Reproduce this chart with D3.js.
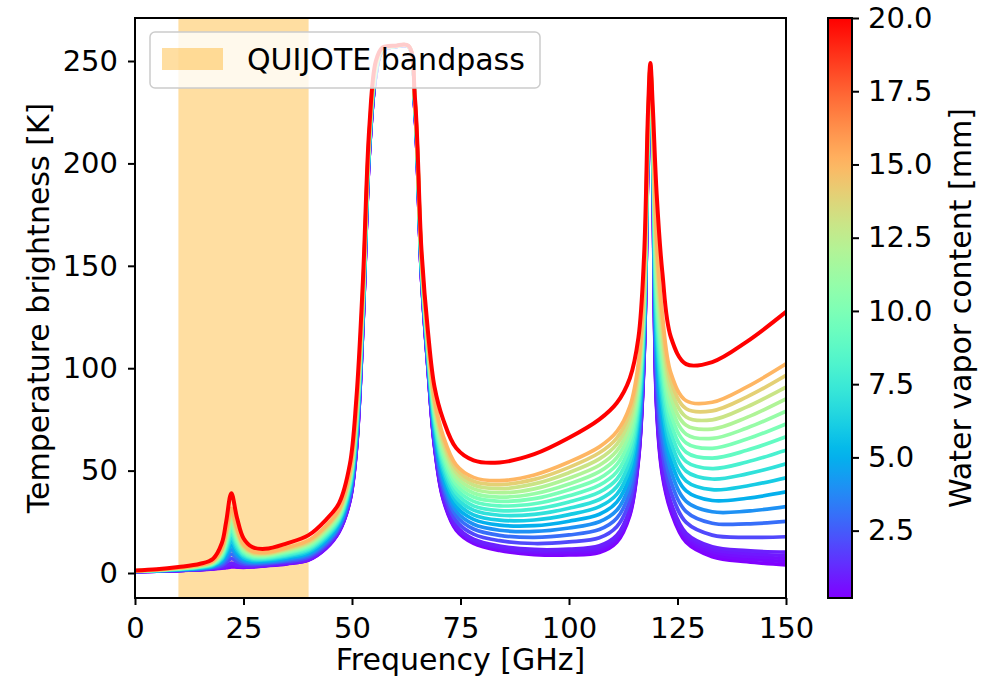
<!DOCTYPE html>
<html>
<head>
<meta charset="utf-8">
<script src="https://cdn.jsdelivr.net/npm/d3@7"></script>
<style>
  body { margin: 0; background: #fff; }
  svg { display: block; }
  text { font-family: "DejaVu Sans", sans-serif; fill: #000; }
</style>
</head>
<body>
<svg id="chart" width="981" height="679"></svg>
<script>
// Frequency grid shared by every spectrum (GHz)
const freqGHz = [0, 5, 10, 15, 18, 20, 21, 22.2, 23.5, 25, 27, 30, 35, 40, 44, 47, 49.5, 51, 52.5, 54,
  55.5, 57, 60, 63, 64.5, 66, 67.5, 69, 71, 74, 78, 84, 92, 100, 107, 111, 114, 116, 117.3, 118.2,
  118.75, 119.3, 120.2, 121.5, 123.5, 127, 133, 141, 150];

// Precipitable water vapour of each spectrum (mm)
const pwvMm = [0.2, 0.4, 0.6, 0.8, 1, 2, 3, 4, 5, 6, 7, 8, 9, 10, 11, 12, 13, 14, 15, 20];

// Brightness temperature (K) for each water vapour content
const tbPwv0p2 = [0.7,0.9,1.2,1.6,2.0,2.4,2.6,3.0,2.9,2.8,3.0,3.5,4.5,6.3,12.0,20.0,35.0,60.0,120.0,205.0,243.0,255.0,257.0,257.0,226.0,145.0,100.0,62.0,36.0,21.0,14.5,11.0,9.0,8.8,10.0,15.0,28.0,55.0,105.0,205.0,243.0,200.0,80.0,48.0,30.0,15.0,8.0,5.5,4.0];
const tbPwv0p4 = [0.7,0.9,1.2,1.6,2.1,2.6,2.9,3.5,3.2,3.0,3.1,3.6,4.6,6.5,12.2,20.2,35.2,60.3,120.3,205.2,243.1,255.0,257.0,257.0,226.1,145.2,100.2,62.4,36.5,21.5,15.0,11.5,9.6,9.5,10.8,15.9,28.8,55.8,105.6,205.3,243.1,200.4,81.3,49.2,31.1,16.1,9.2,6.9,5.6];
const tbPwv0p6 = [0.7,0.9,1.2,1.7,2.1,2.7,3.2,3.9,3.5,3.2,3.2,3.7,4.8,6.6,12.4,20.4,35.5,60.6,120.6,205.3,243.2,255.0,257.0,257.0,226.2,145.3,100.5,62.7,37.0,22.0,15.5,12.1,10.2,10.2,11.6,16.7,29.7,56.5,106.3,205.5,243.2,200.7,82.6,50.5,32.1,17.2,10.4,8.2,7.1];
const tbPwv0p8 = [0.7,0.9,1.3,1.7,2.2,2.9,3.4,4.4,3.8,3.3,3.4,3.8,4.9,6.8,12.5,20.5,35.7,60.9,120.8,205.5,243.3,255.1,257.0,257.0,226.2,145.5,100.7,63.1,37.5,22.5,16.0,12.6,10.8,11.0,12.4,17.6,30.5,57.3,106.9,205.8,243.2,201.1,84.0,51.7,33.2,18.3,11.6,9.5,8.6];
const tbPwv1 = [0.7,1.0,1.3,1.8,2.3,3.0,3.7,4.8,4.1,3.5,3.5,3.9,5.0,6.9,12.7,20.7,35.9,61.3,121.1,205.7,243.4,255.1,257.0,257.0,226.3,145.7,100.9,63.5,38.0,23.0,16.5,13.2,11.5,11.7,13.3,18.4,31.4,58.0,107.5,206.0,243.3,201.4,85.3,53.0,34.3,19.4,12.8,10.9,10.2];
const tbPwv2 = [0.8,1.0,1.4,1.9,2.6,3.7,5.1,7.0,5.6,4.4,4.1,4.4,5.6,7.7,13.6,21.6,37.0,62.8,122.4,206.4,243.8,255.2,257.1,257.1,226.7,146.4,102.0,65.2,40.3,25.4,19.0,15.8,14.4,15.2,17.2,22.6,35.4,61.7,110.6,207.2,243.7,203.1,91.7,59.0,39.4,24.7,18.5,17.4,17.7];
const tbPwv3 = [0.8,1.1,1.5,2.1,2.9,4.5,6.5,9.2,7.0,5.2,4.7,4.9,6.2,8.4,14.4,22.4,38.1,64.3,123.8,207.2,244.2,255.3,257.1,257.1,227.0,147.2,103.1,67.0,42.7,27.9,21.5,18.4,17.4,18.6,21.2,26.7,39.5,65.3,113.6,208.4,244.0,204.8,98.1,65.0,44.6,30.0,24.3,24.0,25.2];
const tbPwv4 = [0.8,1.1,1.6,2.3,3.2,5.2,7.8,11.3,8.4,6.1,5.2,5.4,6.8,9.1,15.2,23.2,39.1,65.8,125.1,208.0,244.6,255.3,257.1,257.1,227.4,148.0,104.1,68.7,45.0,30.2,23.8,20.9,20.3,22.0,25.0,30.6,43.4,68.8,116.5,209.6,244.4,206.4,104.2,70.8,49.6,35.0,29.9,30.2,32.4];
const tbPwv5 = [0.8,1.2,1.7,2.4,3.4,5.9,9.1,13.4,9.8,6.9,5.8,5.9,7.4,9.8,16.0,24.0,40.2,67.2,126.3,208.7,245.0,255.4,257.1,257.1,227.7,148.7,105.2,70.4,47.2,32.5,26.2,23.4,23.1,25.3,28.7,34.6,47.3,72.3,119.4,210.8,244.7,208.1,110.2,76.5,54.5,40.1,35.4,36.5,39.6];
const tbPwv6 = [0.9,1.2,1.8,2.6,3.7,6.6,10.3,15.4,11.2,7.7,6.3,6.4,7.9,10.5,16.8,24.8,41.2,68.6,127.6,209.5,245.4,255.5,257.2,257.2,228.1,149.5,106.2,72.0,49.4,34.8,28.4,25.8,25.9,28.5,32.4,38.4,51.1,75.6,122.2,211.9,245.1,209.6,116.1,82.1,59.2,44.9,40.7,42.5,46.5];
const tbPwv7 = [0.9,1.3,1.9,2.8,4.0,7.2,11.5,17.4,12.5,8.5,6.9,6.8,8.5,11.2,17.6,25.6,42.2,70.0,128.8,210.2,245.8,255.6,257.2,257.2,228.4,150.2,107.2,73.6,51.6,37.0,30.7,28.2,28.6,31.6,35.9,42.1,54.7,78.9,125.0,213.0,245.4,211.2,121.9,87.5,63.9,49.7,45.9,48.4,53.3];
const tbPwv8 = [0.9,1.3,2.0,2.9,4.3,7.9,12.8,19.3,13.8,9.2,7.4,7.3,9.0,11.8,18.3,26.3,43.2,71.3,130.0,210.9,246.2,255.7,257.2,257.2,228.7,150.9,108.2,75.1,53.7,39.1,32.8,30.5,31.2,34.7,39.5,45.8,58.4,82.2,127.7,214.1,245.7,212.7,127.6,92.8,68.5,54.4,51.0,54.2,60.0];
const tbPwv9 = [1.0,1.4,2.1,3.1,4.5,8.5,13.9,21.2,15.1,10.0,7.9,7.7,9.6,12.5,19.1,27.1,44.1,72.7,131.1,211.6,246.5,255.8,257.3,257.3,229.0,151.6,109.1,76.7,55.7,41.2,35.0,32.8,33.8,37.7,42.9,49.4,61.9,85.4,130.3,215.1,246.0,214.2,133.1,98.1,73.0,59.0,56.1,59.9,66.5];
const tbPwv10 = [1.0,1.4,2.1,3.2,4.8,9.1,15.1,23.1,16.3,10.7,8.4,8.1,10.1,13.1,19.8,27.8,45.0,73.9,132.3,212.2,246.9,255.8,257.3,257.3,229.3,152.2,110.0,78.2,57.7,43.3,37.1,35.0,36.3,40.7,46.2,52.9,65.3,88.4,132.9,216.1,246.3,215.6,138.5,103.1,77.3,63.5,60.9,65.4,72.8];
const tbPwv11 = [1.0,1.5,2.2,3.4,5.0,9.7,16.2,24.9,17.5,11.4,8.9,8.5,10.6,13.7,20.5,28.5,45.9,75.2,133.4,212.9,247.3,255.9,257.3,257.3,229.6,152.9,110.9,79.6,59.7,45.3,39.1,37.1,38.7,43.5,49.5,56.3,68.7,91.4,135.4,217.1,246.6,217.0,143.7,108.1,81.6,67.8,65.7,70.8,79.0];
const tbPwv12 = [1.0,1.5,2.3,3.5,5.3,10.3,17.3,26.6,18.7,12.1,9.4,8.9,11.1,14.3,21.2,29.2,46.8,76.4,134.4,213.5,247.6,256.0,257.3,257.3,229.9,153.5,111.8,81.0,61.6,47.2,41.1,39.2,41.1,46.3,52.6,59.6,72.0,94.4,137.8,218.1,246.9,218.4,148.9,112.9,85.8,72.1,70.3,76.0,85.0];
const tbPwv13 = [1.1,1.5,2.4,3.6,5.5,10.9,18.4,28.3,19.8,12.8,9.8,9.3,11.5,14.9,21.8,29.8,47.7,77.6,135.5,214.1,247.9,256.1,257.4,257.4,230.2,154.1,112.7,82.4,63.4,49.1,43.0,41.2,43.5,49.0,55.7,62.8,75.1,97.2,140.2,219.1,247.2,219.7,153.8,117.6,89.8,76.2,74.8,81.1,90.8];
const tbPwv14 = [1.1,1.6,2.5,3.8,5.8,11.5,19.4,30.0,21.0,13.4,10.3,9.7,12.0,15.4,22.5,30.5,48.5,78.7,136.5,214.7,248.2,256.1,257.4,257.4,230.5,154.7,113.5,83.7,65.2,51.0,44.8,43.2,45.7,51.6,58.7,65.9,78.2,99.9,142.5,220.0,247.5,221.0,158.6,122.2,93.7,80.2,79.2,86.0,96.5];
const tbPwv15 = [1.1,1.6,2.6,3.9,6.0,12.0,20.4,31.6,22.0,14.1,10.7,10.1,12.4,16.0,23.1,31.1,49.3,79.9,137.5,215.3,248.6,256.2,257.4,257.4,230.8,155.3,114.3,85.0,67.0,52.8,46.7,45.1,47.9,54.2,61.6,69.0,81.2,102.6,144.7,220.9,247.8,222.2,163.4,126.6,97.5,84.1,83.4,90.9,102.1];
const tbPwv20 = [1.2,1.8,2.9,4.5,7.0,14.5,25.0,39.0,27.0,17.0,12.7,11.8,14.5,18.5,26.0,34.0,53.0,85.0,142.0,218.0,250.0,256.5,257.5,257.5,232.0,158.0,118.0,91.0,75.0,61.0,55.0,54.0,58.0,66.0,75.0,83.0,95.0,115.0,155.0,225.0,249.0,228.0,185.0,147.0,115.0,102.0,103.0,113.0,127.5];

const spectra = [tbPwv0p2, tbPwv0p4, tbPwv0p6, tbPwv0p8, tbPwv1, tbPwv2, tbPwv3, tbPwv4, tbPwv5,
  tbPwv6, tbPwv7, tbPwv8, tbPwv9, tbPwv10, tbPwv11, tbPwv12, tbPwv13, tbPwv14, tbPwv15, tbPwv20];

// Instrument band (GHz)
const bandLabel = "QUIJOTE bandpass";
const bandRange = [10, 40];

// Axis ticks
const xTicks = [0, 25, 50, 75, 100, 125, 150];
const yTicks = [0, 50, 100, 150, 200, 250];
const cbTicks = [2.5, 5, 7.5, 10, 12.5, 15, 17.5, 20];

const xTitle = "Frequency [GHz]";
const yTitle = "Temperature brightness [K]";
const cbTitle = "Water vapor content [mm]";

// ---- layout ----
const svg = d3.select("#chart");
const plot = { left: 135, right: 786, top: 18, bottom: 598 };
const cb = { left: 828, right: 852, top: 18, bottom: 598 };
const TICK_FONT = 29;
const TITLE_FONT = 30;

const x = d3.scaleLinear().domain([0, 150]).range([plot.left, plot.right]);
const y = d3.scaleLinear().domain([-12.2, 271]).range([plot.bottom, plot.top]);
const pwvExtent = d3.extent(pwvMm);
const cbScale = d3.scaleLinear().domain(pwvExtent).range([cb.bottom, cb.top]);

// matplotlib "rainbow" colormap
function rainbow(t) {
  const c = v => Math.max(0, Math.min(1, v));
  const r = c(Math.abs(2 * t - 0.5));
  const g = c(Math.sin(Math.PI * t));
  const b = c(Math.cos(Math.PI * t / 2));
  return d3.rgb(r * 255, g * 255, b * 255).formatHex();
}
const colorOf = v => rainbow((v - pwvExtent[0]) / (pwvExtent[1] - pwvExtent[0]));

svg.append("defs").append("clipPath").attr("id", "plotClip")
  .append("rect").attr("x", plot.left).attr("y", plot.top)
  .attr("width", plot.right - plot.left).attr("height", plot.bottom - plot.top);

// Instrument band
svg.append("rect")
  .attr("x", x(bandRange[0])).attr("y", plot.top)
  .attr("width", x(bandRange[1]) - x(bandRange[0]))
  .attr("height", plot.bottom - plot.top)
  .attr("fill", "#ffa500").attr("fill-opacity", 0.37);

// Spectra, lowest water vapour first so the wettest sits on top
const line = d3.line()
  .x((d, i) => x(freqGHz[i]))
  .y(d => y(d))
  .curve(d3.curveCatmullRom.alpha(0.5));

const gLines = svg.append("g").attr("clip-path", "url(#plotClip)");
spectra.forEach((tb, k) => {
  gLines.append("path")
    .attr("d", line(tb))
    .attr("fill", "none")
    .attr("stroke", colorOf(pwvMm[k]))
    .attr("stroke-width", k === spectra.length - 1 ? 4 : 3.7)
    .attr("stroke-linejoin", "round")
    .attr("stroke-linecap", "round");
});

// Axes
const xAxis = d3.axisBottom(x).tickValues(xTicks).tickFormat(d3.format("d")).tickSize(7).tickPadding(12);
const yAxis = d3.axisLeft(y).tickValues(yTicks).tickFormat(d3.format("d")).tickSize(7).tickPadding(10);

const gx = svg.append("g").attr("transform", `translate(0,${plot.bottom})`).call(xAxis);
const gy = svg.append("g").attr("transform", `translate(${plot.left},0)`).call(yAxis);
[gx, gy].forEach(g => {
  g.select(".domain").remove();
  g.selectAll(".tick line").attr("stroke", "#000").attr("stroke-width", 2);
  g.selectAll(".tick text").attr("font-size", TICK_FONT).attr("font-family", "DejaVu Sans").attr("fill", "#000");
});

// Frame
svg.append("rect")
  .attr("x", plot.left).attr("y", plot.top)
  .attr("width", plot.right - plot.left).attr("height", plot.bottom - plot.top)
  .attr("fill", "none").attr("stroke", "#000").attr("stroke-width", 2);

// Axis titles
svg.append("text")
  .attr("x", (plot.left + plot.right) / 2).attr("y", 670)
  .attr("text-anchor", "middle").attr("font-size", TITLE_FONT).text(xTitle);
svg.append("text")
  .attr("transform", `translate(49,${(plot.top + plot.bottom) / 2}) rotate(-90)`)
  .attr("text-anchor", "middle").attr("font-size", TITLE_FONT).text(yTitle);

// Legend
const lg = svg.append("g");
lg.append("rect")
  .attr("x", 150).attr("y", 32).attr("width", 390).attr("height", 56)
  .attr("rx", 5).attr("ry", 5)
  .attr("fill", "#fff").attr("fill-opacity", 0.8)
  .attr("stroke", "#cccccc").attr("stroke-width", 1.5);
lg.append("rect")
  .attr("x", 162).attr("y", 48).attr("width", 61).attr("height", 22)
  .attr("fill", "#ffa500").attr("fill-opacity", 0.37);
lg.append("text")
  .attr("x", 247).attr("y", 70).attr("font-size", TITLE_FONT).text(bandLabel);

// Colorbar
const grad = svg.select("defs").append("linearGradient")
  .attr("id", "cbGrad").attr("x1", 0).attr("y1", 1).attr("x2", 0).attr("y2", 0);
d3.range(0, 1.0001, 0.02).forEach(t => {
  grad.append("stop").attr("offset", t).attr("stop-color", rainbow(t));
});
svg.append("rect")
  .attr("x", cb.left).attr("y", cb.top)
  .attr("width", cb.right - cb.left).attr("height", cb.bottom - cb.top)
  .attr("fill", "url(#cbGrad)").attr("stroke", "#000").attr("stroke-width", 2);

const cbAxis = d3.axisRight(cbScale).tickValues(cbTicks).tickFormat(d3.format(".1f")).tickSize(7).tickPadding(9);
const gcb = svg.append("g").attr("transform", `translate(${cb.right},0)`).call(cbAxis);
gcb.select(".domain").remove();
gcb.selectAll(".tick line").attr("stroke", "#000").attr("stroke-width", 2);
gcb.selectAll(".tick text").attr("font-size", TICK_FONT).attr("font-family", "DejaVu Sans").attr("fill", "#000");

svg.append("text")
  .attr("transform", `translate(971,${(cb.top + cb.bottom) / 2}) rotate(-90)`)
  .attr("text-anchor", "middle").attr("font-size", TITLE_FONT).text(cbTitle);
</script>
</body>
</html>
